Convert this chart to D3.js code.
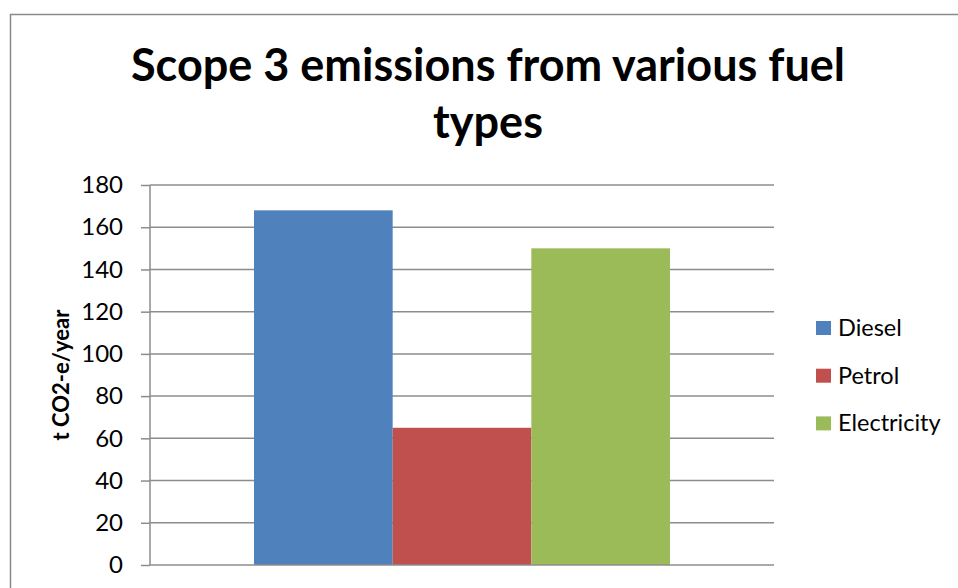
<!DOCTYPE html>
<html>
<head>
<meta charset="utf-8">
<script src="https://cdn.jsdelivr.net/npm/d3@7"></script>
<style>
  html, body { margin: 0; padding: 0; background: #fff; }
  svg { display: block; font-family: Lato, "Open Sans", sans-serif; }
</style>
</head>
<body>
<svg id="chart" width="958" height="588"></svg>
<script>
// Scope 3 emissions by fuel type (t CO2-e per year)
const fuels = ["Diesel", "Petrol", "Electricity"];
const emissions = [168, 65, 150];
const fuelColors = ["#4f81bd", "#c0504d", "#9bbb59"];
const yTicks = [0, 20, 40, 60, 80, 100, 120, 140, 160, 180];
const titleLines = ["Scope 3 emissions from various fuel", "types"];
const yAxisTitle = "t CO2-e/year";

const svg = d3.select("#chart");
const gridColor = "#8c8c8c";

// outer chart frame (runs past the right and bottom edges)
svg.append("rect")
  .attr("x", 10.5).attr("y", 14.5)
  .attr("width", 1000).attr("height", 1000)
  .attr("fill", "#fff")
  .attr("stroke", "#8a8a8a").attr("stroke-width", 1.5);

const plot = { left: 150, right: 774, top: 185, bottom: 565 };

const y = d3.scaleLinear().domain([0, 180]).range([plot.bottom, plot.top]);
const x = d3.scaleBand().domain(fuels)
  .range([plot.left, plot.right])
  .paddingInner(0).paddingOuter(0.75);

// horizontal gridlines
svg.append("g").selectAll("line").data(yTicks.filter(t => t > 0)).join("line")
  .attr("x1", plot.left).attr("x2", plot.right)
  .attr("y1", d => y(d)).attr("y2", d => y(d))
  .attr("stroke", gridColor).attr("stroke-width", 1.5);

// bars
svg.append("g").selectAll("rect").data(fuels).join("rect")
  .attr("x", d => x(d))
  .attr("width", x.bandwidth())
  .attr("y", (d, i) => y(emissions[i]))
  .attr("height", (d, i) => y(0) - y(emissions[i]))
  .attr("fill", (d, i) => fuelColors[i]);

// y axis
const yAxis = d3.axisLeft(y).tickValues(yTicks).tickSize(9).tickPadding(10);
const gy = svg.append("g").attr("transform", `translate(${plot.left},0)`).call(yAxis);
gy.select(".domain").attr("stroke", gridColor).attr("stroke-width", 1.5)
  .attr("d", `M0,${plot.top}V${plot.bottom}`);
gy.selectAll(".tick line").attr("stroke", gridColor).attr("stroke-width", 1.5);
gy.selectAll(".tick text")
  .attr("font-family", "Lato, sans-serif")
  .attr("font-size", 24).attr("fill", "#000")
  .attr("dx", -8);

// x axis baseline
svg.append("line")
  .attr("x1", plot.left).attr("x2", plot.right)
  .attr("y1", y(0)).attr("y2", y(0))
  .attr("stroke", gridColor).attr("stroke-width", 1.5);

// title
svg.append("g").selectAll("text").data(titleLines).join("text")
  .attr("x", 488).attr("y", (d, i) => 81 + i * 57)
  .attr("text-anchor", "middle")
  .attr("font-family", "Lato, sans-serif")
  .attr("font-weight", "bold").attr("font-size", 45)
  .attr("fill", "#000")
  .text(d => d);

// y axis title
svg.append("text")
  .attr("transform", "translate(69,375) rotate(-90)")
  .attr("text-anchor", "middle")
  .attr("font-family", "Lato, sans-serif")
  .attr("font-weight", "bold").attr("font-size", 22)
  .attr("fill", "#000")
  .text(yAxisTitle);

// legend
const legend = svg.append("g").attr("transform", "translate(816,321)");
const item = legend.selectAll("g").data(fuels).join("g")
  .attr("transform", (d, i) => `translate(0,${i * 47.7})`);
item.append("rect").attr("width", 15).attr("height", 14)
  .attr("fill", (d, i) => fuelColors[i]);
item.append("text").attr("x", 22).attr("y", 15)
  .attr("font-family", "Lato, sans-serif")
  .attr("font-size", 23.5).attr("fill", "#000")
  .text(d => d);
</script>
</body>
</html>
